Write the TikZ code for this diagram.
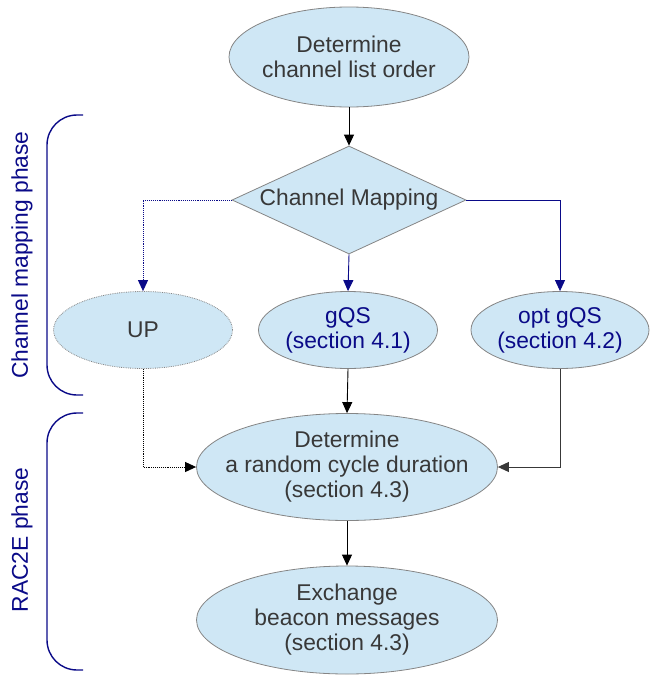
\documentclass[tikz,border=0pt]{standalone}
\usepackage{fontspec}
\setmainfont{Liberation Sans}
\usepackage{xcolor}
\usepackage{tikz}
\usetikzlibrary{shapes.geometric, arrows.meta, positioning}

\definecolor{nodefill}{HTML}{CFE7F5}
\definecolor{nodeedge}{HTML}{858585}
\definecolor{textgray}{HTML}{383838}
\definecolor{navyblue}{HTML}{0A0A88}

\begin{document}
\begin{tikzpicture}[x=1pt, y=-1pt, font=\fontsize{22.8}{25}\selectfont, text=textgray,
  blob/.style={ellipse, draw=nodeedge, fill=nodefill, line width=0.8pt, inner xsep=-30pt, inner ysep=-4pt, align=center},
  arr/.style={-{Triangle[length=11pt,width=10pt]}, line width=0.9pt},
  brace/.style={navyblue, line width=1.4pt, rounded corners=30pt}]
\useasboundingbox (0,0) rectangle (657,675);
\node[blob, minimum width=240pt, minimum height=100pt] (order) at (349,57) {Determine\\channel list order};
\node[diamond, draw=nodeedge, fill=nodefill, line width=0.8pt, inner sep=-4pt, aspect=2.17, minimum width=234pt, minimum height=108pt] (chmap) at (349,200) {Channel Mapping};
\node[blob, minimum width=179pt, minimum height=77pt, densely dotted] (up) at (143,330) {UP};
\node[blob, minimum width=179pt, minimum height=77pt, text=navyblue] (gqs) at (348,330) {gQS\\(section 4.1)};
\node[blob, minimum width=178pt, minimum height=77pt, text=navyblue] (optgqs) at (560,330) {opt gQS\\(section 4.2)};
\node[blob, minimum width=301pt, minimum height=107pt] (cycle) at (347,467) {Determine\\a random cycle duration\\(section 4.3)};
\node[blob, minimum width=301pt, minimum height=108pt] (beacon) at (347,620) {Exchange\\beacon messages\\(section 4.3)};
\node[rotate=90, text=navyblue] (maplabel) at (22,255) {Channel mapping phase};
\node[rotate=90, text=navyblue] (raclabel) at (22,540) {RAC2E phase};
\draw[brace] (83,115) -- (47,115) -- (47,395) -- (83,395);
\draw[brace] (83,413) -- (47,413) -- (47,670) -- (83,670);
\draw[arr] (order) -- (chmap);
\draw[arr, navyblue, densely dotted] (chmap.west) -| (up.north);
\draw[arr, navyblue] (chmap.south) -- (gqs.north);
\draw[arr, navyblue] (chmap.east) -| (optgqs.north);
\draw[arr] (gqs.south) -- (cycle.north);
\draw[arr, densely dotted] (up.south) |- (cycle.west);
\draw[arr, textgray] (optgqs.south) |- (cycle.east);
\draw[arr] (cycle) -- (beacon);
\end{tikzpicture}
\end{document}
